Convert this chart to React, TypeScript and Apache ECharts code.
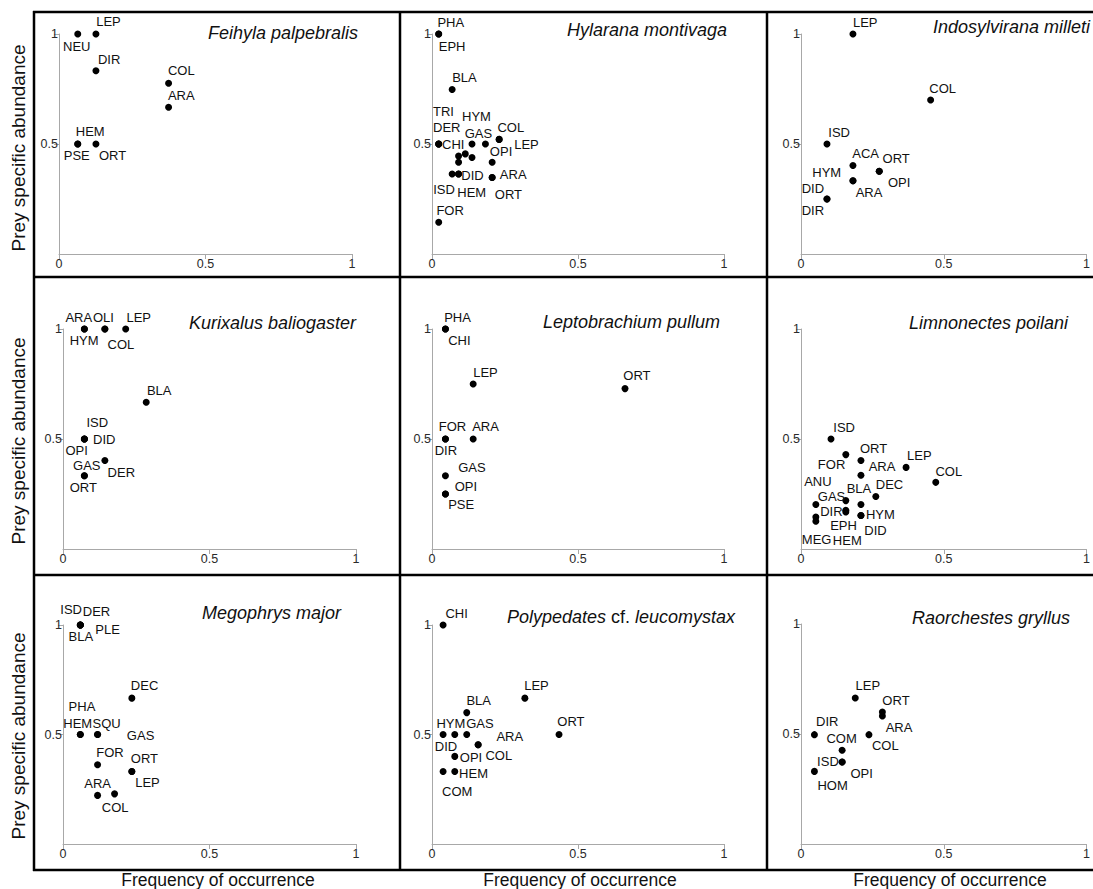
import React, { useEffect, useRef } from "react";
import * as echarts from "echarts";

// ---------- shared text ----------
const xAxisTitle = "Frequency of occurrence";
const yAxisTitle = "Prey specific abundance";
const axisMin = 0;
const axisMax = 1;
const axisStep = 0.5;

// ---------- Feihyla palpebralis ----------
const feihylaNames = ["NEU", "LEP", "DIR", "COL", "ARA", "HEM", "PSE", "ORT"];
const feihylaFreq = [0.064, 0.126, 0.126, 0.374, 0.374, 0.064, 0.064, 0.126];
const feihylaAbund = [1, 1, 0.833, 0.776, 0.667, 0.5, 0.5, 0.5];
const feihylaLabelOffsets = [[-14.7, 12.7], [0.3, -12.3], [2, -11.3], [-0.7, -12.3], [-0.7, -11.3], [-2, -12.3], [-14, 11.7], [3, 11.7]];

// ---------- Hylarana montivaga ----------
const hylaranaNames = ["PHA", "EPH", "BLA", "TRI", "DER", "CHI", "HYM", "GAS", "COL", "LEP", "", "", "", "", "OPI", "ISD", "DID", "HEM", "ARA", "ORT", "FOR"];
const hylaranaFreq = [0.023, 0.023, 0.069, 0.023, 0.023, 0.023, 0.137, 0.183, 0.23, 0.23, 0.091, 0.114, 0.137, 0.091, 0.206, 0.069, 0.091, 0.091, 0.206, 0.206, 0.023];
const hylaranaAbund = [1, 1, 0.748, 0.5, 0.5, 0.5, 0.5, 0.5, 0.521, 0.521, 0.445, 0.455, 0.439, 0.417, 0.417, 0.364, 0.364, 0.364, 0.348, 0.348, 0.144];
const hylaranaLabelOffsets = [[-1.3, -11.3], [0, 12], [0, -12], [-5.7, -32.3], [-5.7, -16.7], [3.3, 0], [-10, -27.3], [-20.7, -10.7], [-1.7, -12], [15, 4.7], [0, 0], [0, 0], [0, 0], [0, 0], [-2.3, -10.7], [-19, 16], [2.7, 2], [-1.3, 18.7], [7.7, -3.3], [2.7, 16.7], [-2.3, -12.3]];

// ---------- Indosylvirana milleti ----------
const indoNames = ["LEP", "COL", "ISD", "ACA", "ORT", "OPI", "HYM", "ARA", "DID", "DIR"];
const indoFreq = [0.182, 0.454, 0.091, 0.182, 0.274, 0.274, 0.182, 0.182, 0.091, 0.091];
const indoAbund = [1, 0.7, 0.5, 0.402, 0.376, 0.376, 0.333, 0.333, 0.25, 0.25];
const indoLabelOffsets = [[0, -11.3], [-1.3, -11.7], [1.3, -11.7], [-0.7, -11.7], [3.3, -12.3], [8.7, 11.3], [-40.7, -8], [2.7, 11.7], [-25.3, -10.7], [-25.3, 11.7]];

// ---------- Kurixalus baliogaster ----------
const kurixNames = ["ARA", "HYM", "OLI", "COL", "LEP", "BLA", "ISD", "DID", "OPI", "DER", "GAS", "ORT"];
const kurixFreq = [0.073, 0.073, 0.143, 0.143, 0.214, 0.284, 0.073, 0.073, 0.073, 0.143, 0.073, 0.073];
const kurixAbund = [1, 1, 1, 1, 1, 0.667, 0.5, 0.5, 0.5, 0.402, 0.333, 0.333];
const kurixLabelOffsets = [[-19, -12], [-14.7, 11.7], [-12, -12], [2.7, 15.7], [0.7, -12], [0.7, -11.7], [2, -16.7], [8.7, 0.7], [-19, 11.3], [2.7, 11.7], [-11.3, -10.3], [-14.7, 11.7]];

// ---------- Leptobrachium pullum ----------
const leptoNames = ["PHA", "CHI", "LEP", "ORT", "FOR", "DIR", "ARA", "GAS", "OPI", "PSE"];
const leptoFreq = [0.046, 0.046, 0.141, 0.661, 0.046, 0.046, 0.141, 0.046, 0.046, 0.046];
const leptoAbund = [1, 1, 0.75, 0.729, 0.5, 0.5, 0.5, 0.333, 0.25, 0.25];
const leptoLabelOffsets = [[-1.3, -12], [2.7, 11.7], [0, -12], [-1.7, -13], [-6.7, -12.7], [-10.7, 11.7], [-1, -12.7], [12.7, -8.7], [9.3, -7.7], [2.7, 10.7]];

// ---------- Limnonectes poilani ----------
const limnoNames = ["ISD", "FOR", "ORT", "LEP", "ARA", "COL", "DEC", "GAS", "ANU", "BLA", "EPH", "HEM", "HYM", "DID", "DIR", "MEG"];
const limnoFreq = [0.105, 0.157, 0.21, 0.368, 0.21, 0.472, 0.262, 0.157, 0.052, 0.21, 0.157, 0.157, 0.21, 0.21, 0.052, 0.052];
const limnoAbund = [0.5, 0.429, 0.402, 0.371, 0.335, 0.303, 0.239, 0.22, 0.202, 0.202, 0.176, 0.168, 0.152, 0.152, 0.145, 0.126];
const limnoLabelOffsets = [[2.3, -11.7], [-28, 10], [-1, -11.7], [1, -11.7], [7.7, -9], [-0.3, -11], [0, -11.7], [-28, -4.3], [-11.7, -22.7], [-14.3, -15.7], [-15.7, 15], [-13, 28.7], [5, -1], [3.3, 14.7], [4.3, -5.7], [-14, 18.3]];

// ---------- Megophrys major ----------
const megoNames = ["ISD", "DER", "PLE", "BLA", "DEC", "PHA", "HEM", "SQU", "GAS", "FOR", "ORT", "LEP", "ARA", "COL"];
const megoFreq = [0.059, 0.059, 0.059, 0.059, 0.235, 0.059, 0.059, 0.118, 0.118, 0.118, 0.235, 0.235, 0.118, 0.176];
const megoAbund = [1, 1, 1, 1, 0.666, 0.5, 0.5, 0.5, 0.5, 0.362, 0.331, 0.331, 0.222, 0.229];
const megoLabelOffsets = [[-20, -15.7], [2.5, -13.3], [15, 4], [-11.7, 11.7], [-1, -12.7], [-11.7, -27.7], [-17, -11], [-5, -11], [29.3, 0.7], [-1.3, -12.7], [-1, -13.3], [3.3, 10.7], [-13.3, -11.7], [-12.7, 13.3]];

// ---------- Polypedates cf. leucomystax ----------
const polyNames = ["CHI", "LEP", "BLA", "DID", "HYM", "GAS", "ORT", "ARA", "COL", "OPI", "COM", "HEM"];
const polyFreq = [0.038, 0.318, 0.119, 0.038, 0.078, 0.119, 0.435, 0.158, 0.158, 0.078, 0.038, 0.078];
const polyAbund = [1, 0.666, 0.6, 0.5, 0.5, 0.5, 0.5, 0.453, 0.453, 0.4, 0.331, 0.331];
const polyLabelOffsets = [[2.3, -11.7], [-0.7, -12.7], [-0.3, -12], [-8.3, 11.7], [-18.3, -11], [-0.5, -11], [-1.7, -12.7], [18.3, -8.3], [7.3, 10.7], [5, 1], [-1, 20], [4.3, 2.3]];

// ---------- Raorchestes gryllus ----------
const raoNames = ["LEP", "ORT", "ARA", "DIR", "COL", "COM", "ISD", "OPI", "HOM"];
const raoFreq = [0.19, 0.285, 0.285, 0.047, 0.238, 0.144, 0.144, 0.144, 0.047];
const raoAbund = [0.664, 0.6, 0.582, 0.497, 0.497, 0.426, 0.373, 0.373, 0.33];
const raoLabelOffsets = [[0.3, -12.3], [0, -11.7], [3.3, 11.3], [1.7, -12.7], [3, 11], [-15.7, -11.3], [-25, -0.7], [8.3, 11.7], [3, 14.3]];

// ---------- panel layout ----------
const panels = [
  { title: "{i|Feihyla palpebralis}", names: feihylaNames, freq: feihylaFreq, abund: feihylaAbund, offsets: feihylaLabelOffsets, grid: { left: 59, top: 34, width: 293, height: 220 }, titleX: 358, titleY: 33 },
  { title: "{i|Hylarana montivaga}", names: hylaranaNames, freq: hylaranaFreq, abund: hylaranaAbund, offsets: hylaranaLabelOffsets, grid: { left: 432, top: 34, width: 292, height: 220 }, titleX: 727, titleY: 30 },
  { title: "{i|Indosylvirana milleti}", names: indoNames, freq: indoFreq, abund: indoAbund, offsets: indoLabelOffsets, grid: { left: 801, top: 34, width: 290, height: 220 }, titleX: 1090, titleY: 27 },
  { title: "{i|Kurixalus baliogaster}", names: kurixNames, freq: kurixFreq, abund: kurixAbund, offsets: kurixLabelOffsets, grid: { left: 63, top: 329, width: 293, height: 220 }, titleX: 356, titleY: 323 },
  { title: "{i|Leptobrachium pullum}", names: leptoNames, freq: leptoFreq, abund: leptoAbund, offsets: leptoLabelOffsets, grid: { left: 432, top: 329, width: 292, height: 220 }, titleX: 720, titleY: 322 },
  { title: "{i|Limnonectes poilani}", names: limnoNames, freq: limnoFreq, abund: limnoAbund, offsets: limnoLabelOffsets, grid: { left: 801, top: 329, width: 290, height: 220 }, titleX: 1068, titleY: 323 },
  { title: "{i|Megophrys major}", names: megoNames, freq: megoFreq, abund: megoAbund, offsets: megoLabelOffsets, grid: { left: 63, top: 625, width: 293, height: 219 }, titleX: 341, titleY: 613 },
  { title: "{i|Polypedates} cf. {i|leucomystax}", names: polyNames, freq: polyFreq, abund: polyAbund, offsets: polyLabelOffsets, grid: { left: 432, top: 625, width: 292, height: 219 }, titleX: 735, titleY: 617 },
  { title: "{i|Raorchestes gryllus}", names: raoNames, freq: raoFreq, abund: raoAbund, offsets: raoLabelOffsets, grid: { left: 801, top: 624, width: 290, height: 220 }, titleX: 1070, titleY: 618 },
];

const rowCenters = [148, 441, 736];
const colCenters = [218, 580, 950];

const FONT = "'Liberation Sans', Arial, Helvetica, sans-serif";
const AXIS_GRAY = "#a8a8a8";
const TITLE_SIZE = 18;

function buildOption() {
  const grid: any[] = [];
  const xAxis: any[] = [];
  const yAxis: any[] = [];
  const series: any[] = [];
  const graphic: any[] = [];

  panels.forEach((p, i) => {
    grid.push({ ...p.grid, containLabel: false });
    const common = {
      gridIndex: i,
      type: "value",
      min: axisMin,
      max: axisMax,
      interval: axisStep,
      splitLine: { show: false },
      axisLine: { show: true, lineStyle: { color: AXIS_GRAY, width: 1 } },
      axisTick: { show: true, length: 5, lineStyle: { color: AXIS_GRAY, width: 1 } },
    };
    xAxis.push({
      ...common,
      axisLabel: { color: "#2a2a2a", fontSize: 12.5, fontFamily: FONT, margin: 3 },
    });
    yAxis.push({
      ...common,
      axisLabel: { color: "#2a2a2a", fontSize: 12.5, fontFamily: FONT, margin: 1, showMinLabel: false },
    });
    const offs = p.offsets;
    series.push({
      type: "scatter",
      xAxisIndex: i,
      yAxisIndex: i,
      symbol: "circle",
      symbolSize: 7,
      itemStyle: { color: "#000", opacity: 1 },
      label: {
        show: true,
        position: "inside",
        align: "left",
        verticalAlign: "middle",
        formatter: "{b}",
        color: "#111",
        fontSize: 13,
        fontFamily: FONT,
      },
      labelLayout: (params: any) => ({
        dx: offs[params.dataIndex][0],
        dy: offs[params.dataIndex][1],
        hideOverlap: false,
      }),
      emphasis: { disabled: true },
      data: p.names.map((n, k) => ({
        name: n,
        value: [p.freq[k], p.abund[k]],
      })),
    });
    graphic.push({
      type: "text",
      x: p.titleX,
      y: p.titleY,
      style: {
        text: p.title,
        align: "right",
        verticalAlign: "middle",
        textAlign: "right",
        textVerticalAlign: "middle",
        fontSize: TITLE_SIZE,
        fontFamily: FONT,
        fill: "#111",
        rich: {
          i: { fontStyle: "italic", fontSize: TITLE_SIZE, fontFamily: FONT, fill: "#111" },
        },
      },
    });
  });

  rowCenters.forEach((cy) => {
    graphic.push({
      type: "text",
      x: 18,
      y: cy,
      rotation: Math.PI / 2,
      style: {
        text: yAxisTitle,
        align: "center",
        verticalAlign: "middle",
        textAlign: "center",
        textVerticalAlign: "middle",
        fontSize: 19,
        fontFamily: FONT,
        fill: "#111",
      },
    });
  });
  colCenters.forEach((cx) => {
    graphic.push({
      type: "text",
      x: cx,
      y: 880,
      style: {
        text: xAxisTitle,
        align: "center",
        verticalAlign: "middle",
        textAlign: "center",
        textVerticalAlign: "middle",
        fontSize: 17.5,
        fontFamily: FONT,
        fill: "#111",
      },
    });
  });

  const lineStyle = { stroke: "#000", lineWidth: 2.5 };
  [12, 277, 575, 870].forEach((y) => {
    graphic.push({ type: "line", shape: { x1: 33, y1: y, x2: 1100, y2: y }, style: lineStyle });
  });
  [34, 400, 767].forEach((x) => {
    graphic.push({ type: "line", shape: { x1: x, y1: 11, x2: x, y2: 871 }, style: lineStyle });
  });

  return {
    animation: false,
    backgroundColor: "#fff",
    grid,
    xAxis,
    yAxis,
    series,
    graphic,
  };
}

export default function App() {
  const ref = useRef<HTMLDivElement>(null);
  useEffect(() => {
    if (!ref.current) return;
    const chart = echarts.init(ref.current, undefined, { renderer: "svg" });
    chart.setOption(buildOption() as any);
    return () => chart.dispose();
  }, []);
  return (
    <div
      ref={ref}
      style={{ position: "fixed", left: 0, top: 0, width: 1093, height: 889, background: "#fff" }}
    />
  );
}
